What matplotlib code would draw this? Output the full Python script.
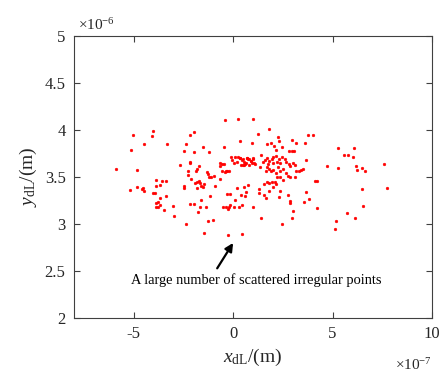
import matplotlib
matplotlib.use("Agg")
import matplotlib.pyplot as plt

plt.rcParams['font.family'] = ['Liberation Serif', 'DejaVu Serif']
plt.rcParams['mathtext.fontset'] = 'custom'
plt.rcParams['mathtext.rm'] = 'Liberation Serif'
plt.rcParams['mathtext.it'] = 'Liberation Serif:italic'
plt.rcParams['axes.unicode_minus'] = False

# x in units of 1e-7 m, y in units of 1e-6 m
x_vals = [
    -0.42, 0.25, 0.98, -5.01, -4.03, -4.08, -4.48, -5.15, -3.31, -1.98,
    -2.16, -2.38, -2.46, -1.95, -1.51, -1.23, -0.48, 0.37, 0.95, 1.25,
    -5.88, -4.85, -2.68, -2.18, -2.15, -2.28, -2.28, -1.82, -1.73, -1.85,
    -1.32, -1.27, -1.20, -1.12, -0.97, -2.12, -1.90, -1.82, -1.73, -1.65,
    -1.60, -1.52, -1.45, -0.68, -0.65, -0.57, -0.48, -0.55, -0.43, -0.37,
    -0.30, -0.20, -0.68, -0.12, 0.10, 0.25, 0.35, 0.48, 0.68, 0.82,
    0.92, 1.02, 1.12, 0.97, -0.07, 0.02, 0.18, 0.38, 0.55, 0.63,
    -3.88, -3.57, -3.35, -3.85, -3.65, -5.18, -4.85, -4.58, -4.48, -4.55,
    -4.02, -3.92, -3.68, -3.75, -3.85, -3.88, -3.68, -3.78, -3.48, -3.35,
    -3.02, -2.98, -2.48, -2.45, -1.82, -2.15, -1.98, -1.65, -1.62, -1.35,
    -1.78, -1.15, -0.92, -2.38, -1.28, -1.02, -1.45, -0.25, 0.45, -0.32,
    -0.15, 0.22, 0.42, 0.58, 0.55, 0.77, 0.65, 0.08, -0.38, -0.22,
    -0.15, -0.28, 0.05, 0.28, 0.47, 0.98, 1.28, 1.28, -0.52,
    1.78, 2.25, 2.32, 1.72, 1.88, 2.08, 2.15, 2.45, 2.97, 3.17,
    3.62, 3.75, 4.02, 2.82, 2.95, 3.05, 5.27, 6.10, 5.58, 5.78,
    6.02, 6.20, 6.22, 6.50, 6.62, 5.28, 4.72, 7.57, 6.48, 7.72,
    6.52, 5.72, 6.12, 5.15, 5.12, 4.12, 4.22, 1.55, 1.65, 1.82,
    2.02, 2.18, 2.38, 2.32, 2.77, 2.85, 2.85, 3.02, 2.95, 3.57,
    3.68, 3.80, 4.22, 2.45, 1.42,
    0.35, 0.43, 0.55, 0.68, 0.77, 0.88, 0.98, 1.05, 0.48, 0.60,
    0.82, 1.38, 1.52, 1.60, 1.72, 1.82, 1.93, 2.02, 2.15, 2.22,
    2.35, 2.48, 2.60, 2.68, 2.82, 2.88, 3.02, 3.10, 3.18, 3.32,
    3.43, 3.52, 3.65, 1.68, 1.82, 1.65, 1.88, 2.02, 2.15, 2.27,
    2.38, 2.52, 2.65, 2.77, 2.88, 3.10, 2.10, 1.93, 1.82, 1.68,
    1.55, 2.35, 2.22, 2.52, 2.02, 1.77, 2.32, 1.35,
]
y_vals = [
    4.11, 4.12, 4.12, 3.95, 3.99, 3.94, 3.85, 3.79, 3.85, 3.98,
    3.95, 3.85, 3.78, 3.77, 3.82, 3.77, 3.82, 3.88, 3.86, 3.96,
    3.59, 3.58, 3.63, 3.66, 3.65, 3.57, 3.52, 3.59, 3.62, 3.56,
    3.55, 3.53, 3.50, 3.50, 3.51, 3.48, 3.44, 3.45, 3.46, 3.44,
    3.41, 3.40, 3.43, 3.65, 3.62, 3.64, 3.64, 3.57, 3.55, 3.56,
    3.57, 3.56, 3.48, 3.71, 3.71, 3.71, 3.70, 3.69, 3.70, 3.69,
    3.67, 3.69, 3.64, 3.65, 3.68, 3.65, 3.66, 3.63, 3.63, 3.65,
    3.47, 3.46, 3.46, 3.41, 3.42, 3.36, 3.39, 3.37, 3.35, 3.38,
    3.33, 3.33, 3.28, 3.24, 3.22, 3.18, 3.20, 3.18, 3.15, 3.30,
    3.19, 3.09, 3.38, 3.41, 3.38, 3.21, 3.21, 3.18, 3.26, 3.18,
    3.13, 3.30, 3.41, 3.00, 3.03, 3.04, 2.91, 2.88, 2.89, 3.32,
    3.32, 3.38, 3.31, 3.30, 3.39, 3.42, 3.34, 3.26, 3.18, 3.18,
    3.20, 3.16, 3.18, 3.18, 3.20, 3.18, 3.37, 3.33, 3.18,
    4.01, 3.93, 3.88, 3.85, 3.86, 3.83, 3.79, 3.82, 3.89, 3.86,
    3.86, 3.95, 3.95, 3.78, 3.78, 3.78, 3.81, 3.81, 3.74, 3.73,
    3.71, 3.62, 3.58, 3.60, 3.57, 3.60, 3.62, 3.64, 3.37, 3.38,
    3.19, 3.12, 3.06, 3.03, 2.95, 3.46, 3.46, 3.31, 3.28, 3.35,
    3.39, 3.43, 3.35, 3.29, 3.31, 3.25, 3.22, 3.14, 3.07, 3.24,
    3.34, 3.27, 3.17, 3.00, 3.06,
    3.70, 3.68, 3.66, 3.70, 3.69, 3.67, 3.70, 3.65, 3.63, 3.64,
    3.63, 3.74, 3.66, 3.68, 3.70, 3.67, 3.69, 3.71, 3.72, 3.66,
    3.65, 3.71, 3.69, 3.66, 3.64, 3.62, 3.65, 3.63, 3.56, 3.56,
    3.58, 3.59, 3.68, 3.61, 3.59, 3.56, 3.56, 3.58, 3.54, 3.61,
    3.56, 3.59, 3.54, 3.51, 3.50, 3.50, 3.45, 3.45, 3.44, 3.45,
    3.43, 3.50, 3.50, 3.47, 3.65, 3.64, 3.69, 3.61,
]

x_ticks = [-5, 0, 5, 10]
y_ticks = [2, 2.5, 3, 3.5, 4, 4.5, 5]
x_tick_labels = ['-5', '0', '5', '10']
y_tick_labels = ['2', '2.5', '3', '3.5', '4', '4.5', '5']
annotation_text = 'A large number of scattered irregular points'

fig = plt.figure(figsize=(4.4, 3.88), dpi=100)
ax = fig.add_axes([0.168, 0.180, 0.814, 0.727])

ax.plot(x_vals, y_vals, linestyle='none', marker='o', markersize=2.0,
        markerfacecolor='red', markeredgecolor='red', markeredgewidth=0.3)

ax.set_xlim(-8, 10)
ax.set_ylim(2, 5)
ax.set_xticks(x_ticks)
ax.set_xticklabels(x_tick_labels)
ax.set_yticks(y_ticks)
ax.set_yticklabels(y_tick_labels)

ax.tick_params(direction='in', length=4, width=0.8, top=True, right=True,
               labelsize=12, colors='#404040', labelcolor='#262626', pad=6)
for s in ax.spines.values():
    s.set_color('#404040')
    s.set_linewidth(0.8)

ax.set_xlabel(r'$x_{\mathrm{dL}}$/(m)', fontsize=14, color='#262626', labelpad=3)
ax.set_ylabel(r'$y_{\mathrm{dL}}$/(m)', fontsize=14, color='#262626', labelpad=4)

ax.text(0.01, 1.01, r'$\times10^{-6}$', transform=ax.transAxes, fontsize=11,
        ha='left', va='bottom', color='#262626')
ax.text(1.0, -0.165, r'$\times10^{-7}$', transform=ax.transAxes, fontsize=11,
        ha='right', va='center', color='#262626')

ax.annotate('', xy=(0.0, 2.80), xytext=(-0.8, 2.53),
            arrowprops=dict(arrowstyle='-|>', color='black', lw=1.6,
                            mutation_scale=12, shrinkA=0, shrinkB=0))
ax.text(1.15, 2.41, annotation_text, fontsize=10.4, ha='center', va='center',
        color='black')

fig.savefig('out.png', dpi=100)
